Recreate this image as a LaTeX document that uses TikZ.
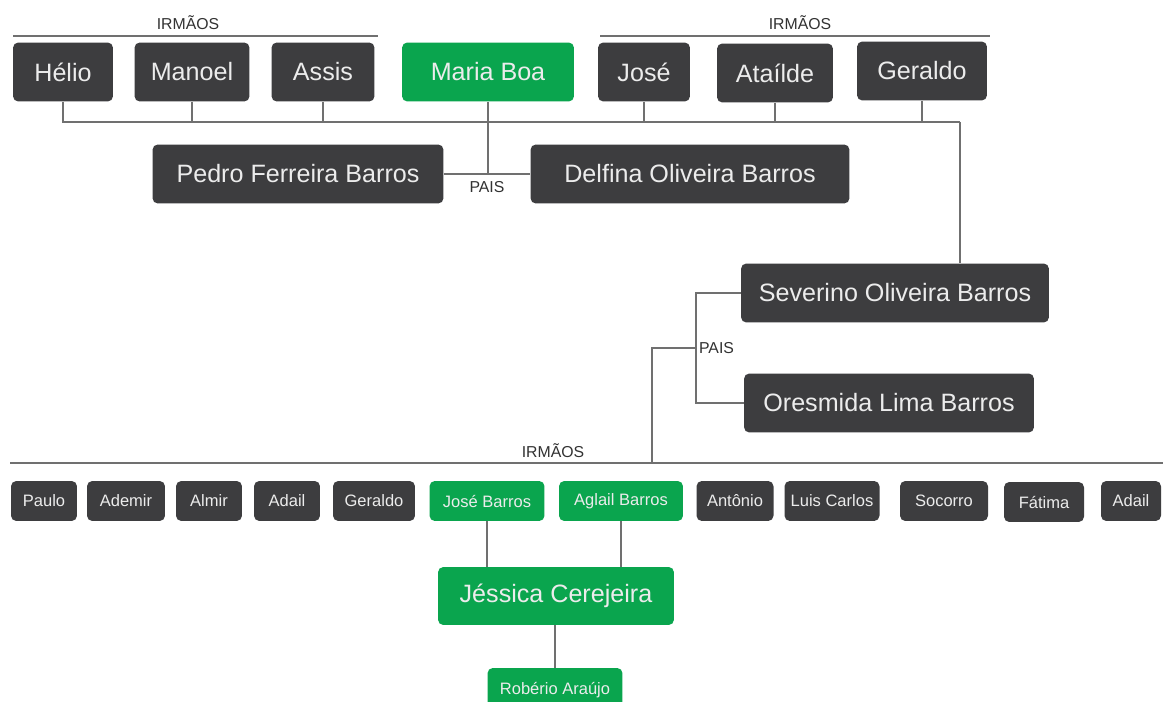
\documentclass[tikz,border=0pt]{standalone}
\usepackage{fontspec}
\setmainfont{Liberation Sans}
\usetikzlibrary{positioning, calc}

\definecolor{boxgray}{RGB}{61,61,63}
\definecolor{kingreen}{RGB}{10,165,78}
\definecolor{boxtext}{RGB}{236,236,236}
\definecolor{linegray}{RGB}{112,112,112}
\definecolor{tagtext}{RGB}{50,50,50}

\begin{document}
\begin{tikzpicture}[
    x=0.02cm, y=-0.02cm,
    person/.style={rounded corners=3pt, fill=boxgray, text=boxtext, inner sep=0pt,
        minimum height=1.18cm, font=\fontsize{14.3}{16}\selectfont},
    kin/.style={person, fill=kingreen},
    small/.style={minimum height=0.8cm, font=\fontsize{9.4}{12}\selectfont},
    link/.style={draw=linegray, line width=0.9pt},
    tag/.style={font=\fontsize{9}{11}\selectfont, text=tagtext, inner sep=1pt}
]
\clip (0,0) rectangle (1163,702);
\fill[white] (0,0) rectangle (1163,702);

% Irmaos de Maria Boa
\node[person, minimum width=2.0cm]  (helio)   at (63,72)  {Hélio};
\node[person, minimum width=2.3cm]  (manoel)  at (192,72) {Manoel};
\node[person, minimum width=2.06cm] (assis)   at (323,72) {Assis};
\node[kin,    minimum width=3.44cm] (maria)   at (488,72) {Maria Boa};
\node[person, minimum width=1.84cm] (jose)    at (644,72) {José};
\node[person, minimum width=2.32cm] (ataide)  at (775,73) {Ataílde};
\node[person, minimum width=2.6cm]  (geraldo) at (922,71) {Geraldo};

% labels over the groups
\coordinate (irmAa) at (13,36);
\coordinate (irmAb) at (378,36);
\coordinate (irmBa) at (600,36);
\coordinate (irmBb) at (990,36);
\node[tag] (irmA) at (188,23) {IRMÃOS};
\node[tag] (irmB) at (800,23) {IRMÃOS};
\draw[link] (irmAa) -- (irmAb);
\draw[link] (irmBa) -- (irmBb);

% Pais
\node[person, minimum width=5.82cm] (pedro)   at (298,174) {Pedro Ferreira Barros};
\node[person, minimum width=6.38cm] (delfina) at (690,174) {Delfina Oliveira Barros};
\node[tag] (paisA) at (487,187) {PAIS};
\draw[link] (pedro.east) -- (delfina.west);

% barra dos irmaos
\coordinate (bar) at (960,122);
\draw[link] (helio.south) -- (helio.south |- bar) -- (bar);
\foreach \n in {manoel, assis, jose, ataide, geraldo}
    \draw[link] (\n.south) -- (\n.south |- bar);
\draw[link] (maria.south) -- (maria.south |- pedro.east);

% Severino e Oresmida
\node[person, minimum width=6.16cm] (severino) at (895,293) {Severino Oliveira Barros};
\node[person, minimum width=5.8cm]  (oresmida) at (889,403) {Oresmida Lima Barros};
\draw[link] (bar) -- (bar |- severino.north);
\coordinate (paisB) at (696,348);
\draw[link] (severino.west) -| (paisB) |- (oresmida.west);
\node[tag, anchor=west] (paisBtxt) at (697,348) {PAIS};

% Irmaos (geracao de baixo)
\coordinate (irmCa) at (10,463);
\coordinate (irmCb) at (1163,463);
\coordinate (irmCup) at (652,463);
\node[tag] (irmC) at (553,451) {IRMÃOS};
\draw[link] (irmCa) -- (irmCb);
\draw[link] (paisB) -| (irmCup);

\node[person, small, minimum width=1.32cm] (paulo)   at (44,501)   {Paulo};
\node[person, small, minimum width=1.56cm] (ademir)  at (126,501)  {Ademir};
\node[person, small, minimum width=1.32cm] (almir)   at (209,501)  {Almir};
\node[person, small, minimum width=1.32cm] (adail)   at (287,501)  {Adail};
\node[person, small, minimum width=1.64cm] (geraldoB) at (374,501) {Geraldo};
\node[kin,    small, minimum width=2.3cm]  (josebarros) at (487,501) {José Barros};
\node[kin,    small, minimum width=2.48cm] (aglail)  at (621,501)  {Aglail Barros};
\node[person, small, minimum width=1.54cm] (antonio) at (735,501)  {Antônio};
\node[person, small, minimum width=1.9cm]  (luis)    at (832,501)  {Luis Carlos};
\node[person, small, minimum width=1.76cm] (socorro) at (944,501)  {Socorro};
\node[person, small, minimum width=1.6cm]  (fatima)  at (1044,502) {Fátima};
\node[person, small, minimum width=1.2cm]  (adailB)  at (1131,501) {Adail};

% Jessica e filho
\node[kin, minimum width=4.72cm, minimum height=1.16cm] (jessica) at (556,596) {Jéssica Cerejeira};
\node[kin, small, minimum width=2.7cm, minimum height=0.88cm] (roberio) at (555,690) {Robério Araújo};
\draw[link] (josebarros.south) -- (josebarros.south |- jessica.north);
\draw[link] (aglail.south) -- (aglail.south |- jessica.north);
\draw[link] (roberio.north |- jessica.south) -- (roberio.north);

\end{tikzpicture}
\end{document}
